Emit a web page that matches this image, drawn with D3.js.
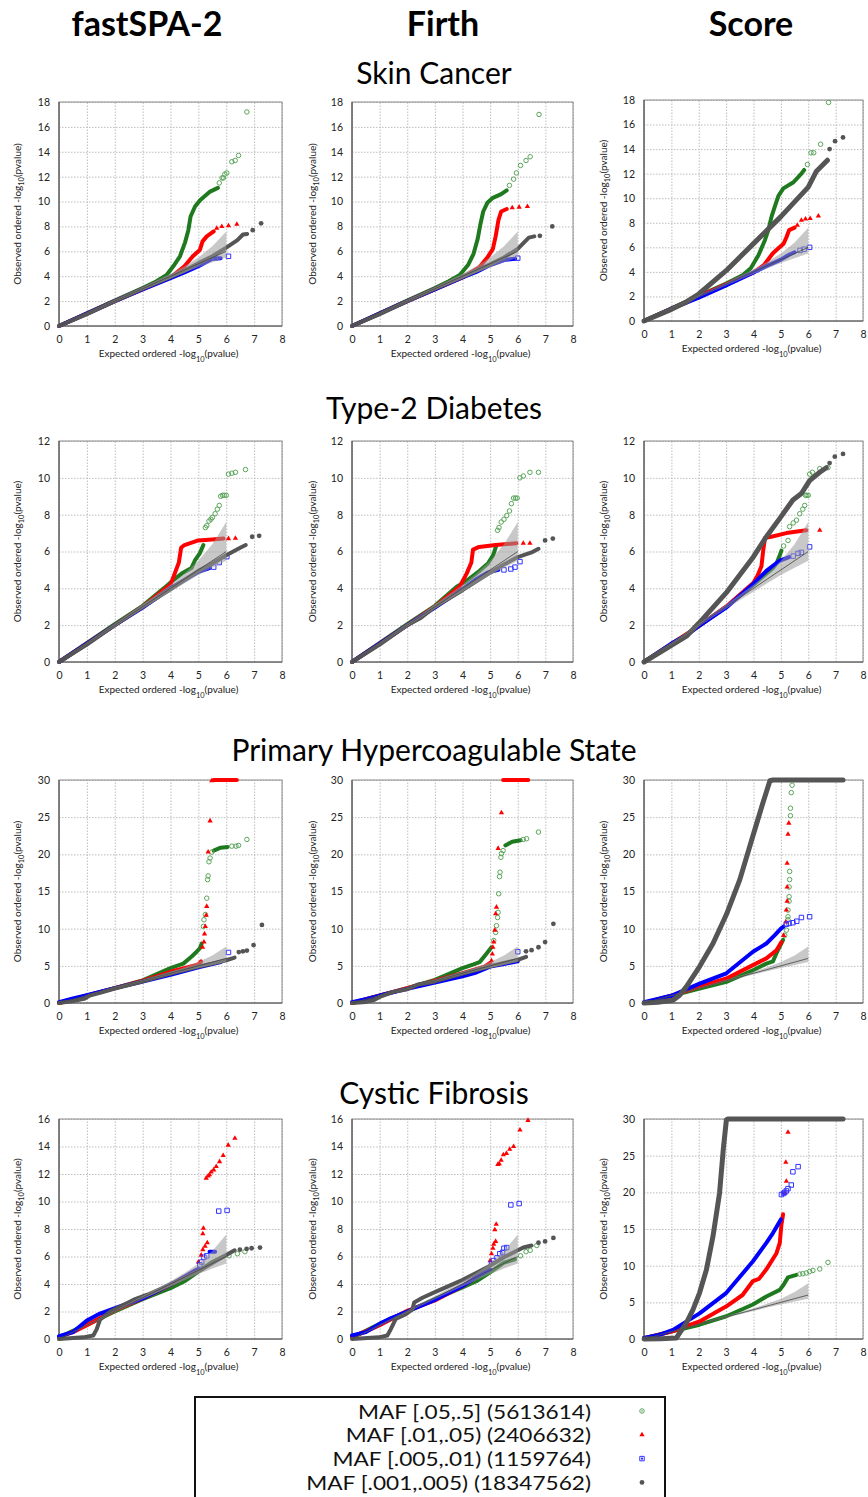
<!DOCTYPE html>
<html>
<head>
<meta charset="utf-8">
<script src="https://d3js.org/d3.v7.min.js"></script>
<style>
  body { margin: 0; background: #fff; }
  svg { font-family: Lato, "Open Sans", sans-serif; }
</style>
</head>
<body>
<script>
// ---- chart values ----
const columns = ["fastSPA-2", "Firth", "Score"];
const diseases = ["Skin Cancer", "Type-2 Diabetes", "Primary Hypercoagulable State", "Cystic Fibrosis"];
const yMaxes = [[18, 18, 18], [12, 12, 12], [30, 30, 30], [16, 16, 30]];
const xTicks = [0, 1, 2, 3, 4, 5, 6, 7, 8];
const legendLabels = ["MAF [.05,.5] (5613614)", "MAF [.01,.05) (2406632)", "MAF [.005,.01) (1159764)", "MAF [.001,.005) (18347562)"];

// null band (expected under H0)
const bandX  = [0, 1, 2, 3, 4, 4.5, 5, 5.5, 6];
const bandLo = [0, 0.95, 1.93, 2.9, 3.82, 4.28, 4.72, 5.12, 5.5];
const bandHi = [0, 1.05, 2.08, 3.12, 4.2, 4.8, 5.5, 6.4, 7.6];

// each panel: dense part [green, red, blue, gray] and sparse tail points, same order
const skinFastLines = [
  [[0,0],[2,2.05],[3,3.05],[3.5,3.6],[3.86,4.1],[4.1,4.8],[4.34,5.6],[4.52,6.7],[4.64,7.7],[4.72,8.8],[4.88,9.6],[5.06,10.1],[5.42,10.8],[5.7,11.1]],
  [[0,0],[2,2],[4,3.9],[4.5,4.8],[4.8,5.6],[5.05,6.1],[5.15,6.8],[5.3,7.2],[5.55,7.6]],
  [[0,0],[1,1],[2,2],[3,2.95],[4,3.85],[4.5,4.3],[5,4.8],[5.5,5.4],[5.8,5.45]],
  [[0,0],[1,0.95],[2,2],[3,3],[4,3.95],[4.5,4.45],[5,5.05],[5.5,5.6],[6,6.3],[6.4,6.9],[6.6,7.35],[6.75,7.4]]
];
const skinFastTails = [
  [[5.75,11.5],[5.85,11.9],[5.9,11.9],[5.95,12.2],[6.02,12.3],[6.2,13.2],[6.32,13.3],[6.44,13.7],[6.74,17.2]],
  [[5.66,7.85],[5.84,8.0],[6.08,8.05],[6.38,8.18]],
  [[5.6,5.45],[6.08,5.6]],
  [[6.95,7.7],[7.25,8.25]]
];
const skinFirthLines = [
  [[0,0],[2,2.05],[3,3.05],[3.5,3.6],[3.9,4.1],[4.2,4.9],[4.4,5.8],[4.55,7.0],[4.65,8.2],[4.75,9.2],[4.9,9.9],[5.1,10.3],[5.4,10.6],[5.6,10.9]],
  [[0,0],[2,2],[4,3.9],[4.6,4.7],[4.9,5.5],[5.1,6.2],[5.2,7.2],[5.3,8.5],[5.4,9.2],[5.6,9.4]],
  [[0,0],[1,1],[2,2],[3,2.95],[4,3.9],[4.5,4.35],[5,4.9],[5.5,5.3],[5.9,5.4]],
  [[0,0],[1,0.95],[2,2],[3,3],[4,3.95],[5,4.95],[5.5,5.5],[6,6.2],[6.4,7.1],[6.6,7.2]]
];
const skinFirthTails = [
  [[5.7,11.3],[5.85,11.8],[5.95,12.3],[6.1,12.9],[6.3,13.3],[6.45,13.6],[6.77,17.0]],
  [[5.8,9.5],[6.05,9.55],[6.35,9.6]],
  [[6.0,5.45]],
  [[6.8,7.25],[7.25,8.0]]
];
const skinScoreLines = [
  [[0,0],[2,2.05],[3,3.05],[3.6,3.72],[3.9,4.3],[4.18,5.35],[4.42,6.6],[4.54,7.4],[4.66,8.5],[4.79,9.4],[4.91,10.2],[5.09,10.8],[5.46,11.3],[5.75,12.0],[5.85,12.3]],
  [[0,0],[2,2],[4,3.95],[4.4,4.6],[4.7,5.5],[4.95,6.0],[5.1,6.3],[5.2,6.8],[5.3,7.4],[5.5,7.6]],
  [[0,0],[1,1.0],[1.55,1.5],[2,1.9],[3,2.9],[4,3.95],[4.5,4.5],[5,5.0],[5.3,5.4],[5.5,5.6]],
  [[0,0],[1,0.95],[1.55,1.55],[2,2.2],[3,4.1],[4,6.3],[4.5,7.4],[5,8.5],[5.5,9.7],[6,10.9],[6.3,12.2],[6.7,13.1]]
];
const skinScoreTails = [
  [[5.97,12.75],[6.1,13.7],[6.2,13.7],[6.45,14.4],[6.74,17.8]],
  [[5.6,7.8],[5.75,8.2],[5.9,8.3],[6.07,8.35],[6.37,8.55]],
  [[5.7,5.75],[5.85,5.85],[6.05,6.0]],
  [[6.78,14.0],[6.98,14.65],[7.27,14.95]]
];
const t2dFastLines = [
  [[0,0],[2,2.05],[3,3.05],[3.8,4.05],[4.1,4.45],[4.4,4.8],[4.75,5.1],[4.87,5.5],[5.05,5.9],[5.18,6.35]],
  [[0,0],[2,2],[3,3],[4,4.2],[4.15,4.8],[4.3,5.4],[4.38,6.2],[4.5,6.35],[5,6.6],[5.5,6.65],[5.9,6.7]],
  [[0,0],[1,1],[2,2],[3,2.95],[4,4.0],[4.5,4.45],[5,4.9],[5.4,5.1]],
  [[0,0],[1,0.95],[2,2],[3,3],[4,3.95],[5,4.95],[5.5,5.35],[6,5.8],[6.5,6.2],[6.7,6.35]]
];
const t2dFastTails = [
  [[5.25,7.3],[5.3,7.4],[5.38,7.65],[5.45,7.75],[5.5,7.85],[5.6,8.05],[5.68,8.3],[5.75,8.5],[5.8,9.0],[5.87,9.05],[5.93,9.05],[6.0,9.05],[6.08,10.2],[6.2,10.25],[6.33,10.3],[6.69,10.45]],
  [[6.08,6.7],[6.33,6.72]],
  [[5.55,5.15],[5.75,5.4],[6.02,5.72]],
  [[6.93,6.8],[7.18,6.85]]
];
const t2dFirthLines = [
  [[0,0],[2,2.05],[3,3.05],[3.8,4.1],[4.1,4.35],[4.62,4.95],[4.92,5.35],[5.11,5.8],[5.23,6.35]],
  [[0,0],[2,2],[3,3],[3.9,4.1],[4.15,4.8],[4.32,5.4],[4.38,6.1],[4.6,6.25],[5.2,6.35],[5.95,6.45]],
  [[0,0],[1,1],[2,2],[3,2.95],[4,3.95],[4.5,4.5],[4.9,4.85],[5.3,5.0]],
  [[0,0],[1,0.95],[2,2],[2.5,2.4],[3,3],[4,3.9],[5,4.85],[5.5,5.3],[6,5.7],[6.5,5.95],[6.75,6.15]]
];
const t2dFirthTails = [
  [[5.27,7.15],[5.32,7.3],[5.4,7.6],[5.5,7.75],[5.6,7.95],[5.7,8.2],[5.77,8.6],[5.85,8.9],[5.92,8.9],[5.98,8.9],[6.08,10.0],[6.2,10.1],[6.44,10.3],[6.75,10.3]],
  [[6.2,6.45],[6.44,6.45]],
  [[5.5,5.0],[5.75,5.05],[5.9,5.15],[6.08,5.45]],
  [[6.99,6.6],[7.27,6.7]]
];
const t2dScoreLines = [
  [[0,0],[2,1.95],[3,3],[4,4.2],[4.71,5.1],[4.84,5.35],[4.96,5.8],[5.02,6.05]],
  [[0,0],[2,1.95],[3,3],[4,4.3],[4.15,4.7],[4.29,5.2],[4.35,6.0],[4.42,6.75],[4.65,6.8],[5.2,7.0],[5.93,7.15]],
  [[0,0],[1,1],[1.55,1.45],[2,1.95],[3,2.95],[4,4.25],[4.47,4.95],[4.96,5.5],[5.3,5.7]],
  [[0,0],[1,0.9],[1.55,1.4],[2,2.1],[3,3.75],[4,5.72],[4.47,6.8],[4.96,7.8],[5.44,8.8],[5.75,9.15],[6.05,9.85],[6.42,10.3],[6.66,10.55]]
];
const t2dScoreTails = [
  [[5.1,6.3],[5.26,6.6],[5.32,7.35],[5.45,7.55],[5.57,7.7],[5.69,8.05],[5.8,8.3],[5.87,8.5],[5.9,9.05],[5.95,9.05],[6.0,9.05],[6.05,10.2],[6.15,10.3],[6.42,10.5],[6.72,10.55]],
  [[6.42,7.15]],
  [[5.45,5.75],[5.63,5.9],[5.75,5.95],[6.05,6.25]],
  [[6.78,10.8],[6.97,11.15],[7.27,11.3]]
];
const phsFastLines = [
  [[0,0],[2,2],[3,3.05],[4,4.7],[4.46,5.3],[4.76,6.25],[4.94,6.9],[5.06,7.4],[5.12,8.0],null,[5.55,20.5],[5.8,20.9],[6.05,21.0]],
  [[0,0],[2,2],[3,3],[4,4.2],[4.6,4.8],[5.0,5.2],[5.1,5.6],null,[5.55,30],[6.38,30]],
  [[0,0.1],[0.5,0.6],[1,1.05],[2,2],[3,2.9],[4,3.8],[4.5,4.3],[5,4.8],[5.5,5.25],[5.8,5.5]],
  [[0,0],[0.5,0.25],[0.9,0.55],[1.1,1.0],[1.5,1.4],[2,1.95],[3,2.9],[4,3.95],[5,4.9],[5.5,5.3],[6,5.75],[6.3,6.1]]
];
const phsFastTails = [
  [[5.18,10.3],[5.2,11.2],[5.25,11.9],[5.3,14.1],[5.33,16.6],[5.35,17.1],[5.38,19.0],[5.42,19.5],[5.48,20.3],[6.2,21.1],[6.35,21.1],[6.44,21.2],[6.74,22.0]],
  [[5.15,7.5],[5.2,8.2],[5.22,9.3],[5.25,10.3],[5.28,11.8],[5.3,13.0],[5.35,20.3],[5.42,24.5],[5.48,29.9]],
  [[6.08,6.8]],
  [[6.45,6.85],[6.6,6.95],[6.74,7.05],[6.98,7.8],[7.28,10.5]]
];
const phsFirthLines = [
  [[0,0],[2,2],[3,3.1],[4,4.7],[4.4,5.2],[4.62,5.5],[4.86,6.6],[5.05,7.5],null,[5.55,21.2],[5.8,21.7],[6.1,21.9]],
  [[0,0],[2,2],[3,3],[4,4.0],[4.8,4.9],[5.0,5.4],null,[5.47,30],[6.38,30]],
  [[0,0.1],[0.5,0.5],[1,1.0],[2,1.9],[3,2.75],[4,3.6],[4.5,4.1],[5,4.9],[5.5,5.25],[6,5.6]],
  [[0,0],[0.5,0.15],[0.8,0.4],[1.05,0.9],[1.5,1.5],[2,1.85],[2.4,2.5],[3,2.9],[4,3.95],[5,4.95],[5.5,5.4],[6,5.8],[6.3,6.2]]
];
const phsFirthTails = [
  [[5.13,8.4],[5.2,9.5],[5.23,10.4],[5.27,11.5],[5.29,12.2],[5.31,14.7],[5.34,17.0],[5.36,17.6],[5.39,19.6],[5.41,20.1],[5.47,20.5],[6.2,22.0],[6.32,22.1],[6.75,23.0]],
  [[5.05,5.7],[5.08,6.6],[5.1,7.5],[5.13,8.2],[5.17,9.8],[5.2,12.0],[5.23,12.9],[5.29,20.8],[5.41,25.6]],
  [[6.0,6.9]],
  [[6.3,6.95],[6.5,7.1],[6.75,7.5],[6.99,8.2],[7.29,10.65]]
];
const phsScoreLines = [
  [[0,0],[1,0.95],[2.03,1.95],[3.01,2.85],[3.98,4.4],[4.47,5.3],[4.71,5.6],[4.84,6.7],[4.96,7.6],[5.08,8.5]],
  [[0,0],[1,1],[2.03,2.2],[3.01,3.3],[3.98,5.1],[4.47,6.0],[4.84,7.1],[5.02,8.2]],
  [[0,0.1],[0.5,0.55],[1.06,1.05],[2.03,2.6],[3.01,4.0],[3.98,6.9],[4.47,8.0],[4.77,9.1],[5.0,10.0],[5.1,10.3]],
  [[0,0],[0.5,0.1],[1.06,0.36],[1.3,1.05],[1.55,2.2],[2.03,4.9],[2.52,8.0],[3.01,11.9],[3.5,16.6],[3.98,22.5],[4.35,27.0],[4.6,29.9],[4.71,30],[7.27,30]]
];
const phsScoreTails = [
  [[5.14,9.1],[5.2,9.8],[5.26,11.2],[5.26,11.6],[5.26,12.5],[5.3,13.7],[5.3,14.3],[5.3,15.6],[5.32,16.6],[5.32,17.7],[5.35,25.2],[5.35,26.2],[5.38,28.3],[5.41,29.3]],
  [[5.1,9.1],[5.18,10.9],[5.2,12.5],[5.23,13.7],[5.23,15.6],[5.23,18.8],[5.26,22.7],[5.29,24.2]],
  [[5.2,10.6],[5.3,10.7],[5.44,10.8],[5.58,11.0],[5.75,11.5],[6.05,11.6]],
  []
];
const cfFastLines = [
  [[0,0.1],[0.5,0.6],[1,1.05],[2,2.0],[3,2.9],[4,3.7],[4.5,4.2],[5,4.9],[5.5,5.6],[5.9,6.0]],
  [[0,0.15],[0.5,0.5],[1,1.0],[2,2.1],[3,2.95],[4,3.95],[4.5,4.5],[4.9,5.0]],
  [[0,0.2],[0.5,0.5],[1.0,1.35],[1.47,1.85],[1.96,2.2],[3.05,3.0],[4.13,4.1],[4.74,4.8],[5.0,5.1],null,[5.4,6.35],[5.6,6.35]],
  [[0,0],[0.87,0.12],[1.23,0.25],[1.35,0.7],[1.47,1.4],[1.84,2.0],[2.2,2.37],[2.68,2.86],[3.17,3.22],[4.13,4.07],[5.1,5.04],[5.7,5.77],[6.3,6.45]]
];
const cfFastTails = [
  [[6.1,6.05],[6.4,6.2],[6.67,6.35]],
  [[5.0,5.6],[5.1,6.1],[5.16,6.5],[5.24,6.75],[5.32,7.0],[5.16,7.65],[5.18,8.05],[5.28,11.7],[5.35,11.85],[5.4,11.95],[5.46,12.15],[5.55,12.3],[5.64,12.55],[5.76,12.9],[5.89,13.35],[6.07,14.1],[6.31,14.6]],
  [[5.05,5.4],[5.12,5.6],[5.2,5.95],[5.3,6.05],[5.73,9.3],[6.03,9.35]],
  [[6.49,6.5],[6.73,6.55],[6.91,6.6],[7.21,6.65]]
];
const cfFirthLines = [
  [[0,0.1],[0.5,0.6],[1,1.1],[2,2.0],[3,2.9],[4,3.75],[4.5,4.2],[5,4.85],[5.5,5.55],[5.9,5.8]],
  [[0,0.15],[0.5,0.55],[1,1.0],[2,2.05],[3,2.8],[4,3.85],[4.5,4.5],[4.9,5.2]],
  [[0,0.25],[0.5,0.5],[1,1.1],[1.4,1.5],[2,2.0],[3,2.85],[4,3.85],[4.5,4.5],[4.8,4.85],[5.0,5.05]],
  [[0,0],[0.97,0.12],[1.28,0.25],[1.4,0.7],[1.58,1.45],[1.95,1.8],[2.19,2.15],[2.25,2.65],[2.55,3.0],[3.04,3.45],[4.01,4.3],[4.98,5.3],[5.5,5.95],[6.2,6.65],[6.5,6.8]]
];
const cfFirthTails = [
  [[6.1,6.05],[6.3,6.35],[6.45,6.45],[6.69,6.8]],
  [[5.0,5.7],[5.05,6.2],[5.1,6.6],[5.13,6.9],[5.2,7.1],[5.17,7.95],[5.22,8.35],[5.28,12.7],[5.33,12.75],[5.4,13.0],[5.48,13.4],[5.59,13.5],[5.71,13.8],[5.85,14.0],[6.08,15.2],[6.37,15.9]],
  [[5.05,5.5],[5.12,5.7],[5.25,5.9],[5.35,6.2],[5.45,6.3],[5.5,6.6],[5.6,6.65],[5.75,9.75],[6.05,9.85]],
  [[6.75,7.0],[6.99,7.1],[7.29,7.35]]
];
const cfScoreLines = [
  [[0,0.1],[1,1.0],[2.03,1.95],[3.01,3.1],[3.98,4.7],[4.47,5.8],[4.96,6.7],[5.1,7.4],[5.26,8.4],[5.57,8.75]],
  [[0,0.1],[1,1.0],[2.03,2.4],[3.01,4.45],[3.6,6.0],[3.98,7.9],[4.2,8.2],[4.47,9.5],[4.84,11.7],[4.96,13.1],[5.02,15.6],[5.08,17.0]],
  [[0,0.15],[0.5,0.5],[1.06,1.25],[2.03,3.5],[3.01,6.3],[3.98,10.6],[4.47,13.1],[4.71,14.45],[5.0,16.3]],
  [[0,0],[0.6,0.05],[1.18,0.14],[1.3,0.8],[1.55,2.2],[1.79,4.0],[2.03,6.3],[2.28,9.45],[2.52,14.0],[2.76,19.9],[2.9,26.0],[3.01,29.9],[3.05,30],[7.27,30]]
];
const cfScoreTails = [
  [[5.69,8.85],[5.8,8.9],[5.93,9.0],[6.05,9.2],[6.17,9.35],[6.42,9.55],[6.72,10.45]],
  [[5.14,19.9],[5.2,21.5],[5.18,24.1],[5.26,28.2]],
  [[5.02,19.7],[5.1,19.85],[5.14,20.0],[5.2,20.2],[5.26,20.5],[5.38,21.0],[5.44,22.8],[5.63,23.5]],
  []
];

const panelLines = [
  [skinFastLines, skinFirthLines, skinScoreLines],
  [t2dFastLines, t2dFirthLines, t2dScoreLines],
  [phsFastLines, phsFirthLines, phsScoreLines],
  [cfFastLines, cfFirthLines, cfScoreLines]
];
const panelTails = [
  [skinFastTails, skinFirthTails, skinScoreTails],
  [t2dFastTails, t2dFirthTails, t2dScoreTails],
  [phsFastTails, phsFirthTails, phsScoreTails],
  [cfFastTails, cfFirthTails, cfScoreTails]
];

// ---- layout / style ----
const W = 868, H = 1497;
const colX = [59, 352, 644], colW = [223, 221, 219];
const rowTop = [102, 441, 780, 1119], rowBot = [326, 662, 1003, 1339];
const lineColor = ["#1f7a1f", "#ff0000", "#0000ff", "#555555"];
const tailColor = ["#5aa55a", "#ff0000", "#3333ff", "#555555"];
const drawOrder = [0, 1, 2, 3];

const svg = d3.select("body").append("svg").attr("width", W).attr("height", H);

// column headings
svg.selectAll(".colTitle").data(columns).enter().append("text")
  .attr("x", (d, i) => [147, 443, 751][i]).attr("y", 22)
  .attr("text-anchor", "middle").attr("dominant-baseline", "central")
  .style("font-size", "34px").style("font-weight", "bold")
  .text(d => d);

// disease headings
svg.selectAll(".rowTitle").data(diseases).enter().append("text")
  .attr("x", 434).attr("y", (d, i) => [72, 407, 749, 1092][i])
  .attr("text-anchor", "middle").attr("dominant-baseline", "central")
  .style("font-size", "30px")
  .text(d => d);

const symCircle = d3.symbol().type(d3.symbolCircle).size(16);
const symTri = d3.symbol().type(d3.symbolTriangle).size(12);
const symSq = d3.symbol().type(d3.symbolSquare).size(20);
const symDot = d3.symbol().type(d3.symbolCircle).size(18);

function markerPath(s) { return [symCircle, symTri, symSq, symDot][s](); }
function markerFill(s) { return s === 0 || s === 2 ? "none" : tailColor[s]; }
function markerStroke(s) { return s === 0 || s === 2 ? tailColor[s] : "none"; }

for (let r = 0; r < 4; r++) {
  for (let c = 0; c < 3; c++) {
    const top = (r === 0 && c === 2) ? 100 : rowTop[r];
    const bot = (r === 0 && c === 2) ? 321 : rowBot[r];
    const x = d3.scaleLinear().domain([0, 8]).range([colX[c], colX[c] + colW[c]]);
    const ymax = yMaxes[r][c];
    const y = d3.scaleLinear().domain([0, ymax]).range([bot, top]);
    const step = ymax === 30 ? 5 : 2;
    const yTicks = d3.range(0, ymax + 0.01, step);
    const g = svg.append("g");

    // grid
    g.append("g").attr("transform", `translate(0,${bot})`)
      .call(d3.axisBottom(x).tickValues(xTicks).tickSize(-(bot - top)).tickFormat(""))
      .call(a => a.select(".domain").remove())
      .selectAll("line").attr("stroke", "#bdbdbd").attr("stroke-dasharray", "1.5,1.5");
    g.append("g").attr("transform", `translate(${colX[c]},0)`)
      .call(d3.axisLeft(y).tickValues(yTicks).tickSize(-colW[c]).tickFormat(""))
      .call(a => a.select(".domain").remove())
      .selectAll("line").attr("stroke", "#bdbdbd").attr("stroke-dasharray", "1.5,1.5");

    // frame
    g.append("rect").attr("x", colX[c]).attr("y", top).attr("width", colW[c]).attr("height", bot - top)
      .attr("fill", "none").attr("stroke", "#8a8a8a").attr("stroke-width", 1);
    g.append("line").attr("x1", colX[c]).attr("x2", colX[c]).attr("y1", top).attr("y2", bot)
      .attr("stroke", "#555").attr("stroke-width", 1.2);
    g.append("line").attr("x1", colX[c]).attr("x2", colX[c] + colW[c]).attr("y1", bot).attr("y2", bot)
      .attr("stroke", "#555").attr("stroke-width", 1.2);

    // tick labels
    g.append("g").attr("transform", `translate(0,${bot})`)
      .call(d3.axisBottom(x).tickValues(xTicks).tickSize(0).tickPadding(10))
      .call(a => a.select(".domain").remove())
      .selectAll("text").style("font-size", "10.5px").attr("fill", "#222").style("font-family", "Lato, sans-serif");
    g.append("g").attr("transform", `translate(${colX[c]},0)`)
      .call(d3.axisLeft(y).tickValues(yTicks).tickSize(0).tickPadding(9))
      .call(a => a.select(".domain").remove())
      .selectAll("text").style("font-size", "10.5px").attr("fill", "#222").style("font-family", "Lato, sans-serif");

    // axis titles
    const xt = g.append("text").attr("x", colX[c] + colW[c] / 2 - 2).attr("y", bot + 31)
      .attr("text-anchor", "middle").style("font-size", "10px").attr("fill", "#222");
    xt.append("tspan").text("Expected ordered -log");
    xt.append("tspan").attr("baseline-shift", "sub").style("font-size", "7.5px").text("10");
    xt.append("tspan").text("(pvalue)");
    const yx = [17, 312, 603][c];
    const yt = g.append("text").attr("transform", `translate(${yx},${(top + bot) / 2}) rotate(-90)`)
      .attr("text-anchor", "middle").attr("dominant-baseline", "central").style("font-size", "10px").attr("fill", "#222");
    yt.append("tspan").text("Observed ordered -log");
    yt.append("tspan").attr("baseline-shift", "sub").style("font-size", "7.5px").text("10");
    yt.append("tspan").text("(pvalue)");

    // dense parts of each MAF class, then sparse tail markers
    const line = d3.line().defined(d => d != null).x(d => x(d[0])).y(d => y(d[1]));
    drawOrder.forEach(s => {
      g.append("path").datum(panelLines[r][c][s])
        .attr("d", line).attr("fill", "none").attr("stroke", lineColor[s])
        .attr("stroke-width", s === 3 && c === 2 ? 5 : 4)
        .attr("stroke-linecap", "round").attr("stroke-linejoin", "round");
      g.selectAll(null).data(panelTails[r][c][s]).enter().append("path")
        .attr("transform", d => `translate(${x(d[0])},${y(d[1])})`)
        .attr("d", markerPath(s)).attr("fill", markerFill(s))
        .attr("stroke", markerStroke(s)).attr("stroke-width", 1);
    });

    // null band and diagonal
    const band = d3.area().x((d, i) => x(bandX[i])).y0((d, i) => y(bandLo[i])).y1((d, i) => y(bandHi[i]));
    g.append("path").datum(bandX).attr("d", band).attr("fill", "#9a9a9a").attr("opacity", 0.55);
    g.append("line").attr("x1", x(0)).attr("y1", y(0)).attr("x2", x(6)).attr("y2", y(6))
      .attr("stroke", "#444").attr("stroke-width", 0.8);
  }
}

// legend
const lg = svg.append("g");
lg.append("rect").attr("x", 195).attr("y", 1397).attr("width", 470).attr("height", 120)
  .attr("fill", "#fff").attr("stroke", "#111").attr("stroke-width", 2);
lg.selectAll(".lt").data(legendLabels).enter().append("text")
  .attr("x", 591).attr("y", (d, i) => 1411 + i * 23.8)
  .attr("text-anchor", "end").attr("dominant-baseline", "central")
  .style("font-size", "19.5px").attr("fill", "#111").text(d => d)
  .each(function() {
    // the original legend type is wider than Lato at this size
    const w = this.getComputedTextLength();
    d3.select(this).attr("textLength", w * 1.16).attr("lengthAdjust", "spacingAndGlyphs");
  });
lg.selectAll(".lm").data(legendLabels).enter().append("path")
  .attr("transform", (d, i) => `translate(642,${1411 + i * 23.8})`)
  .attr("d", (d, i) => markerPath(i)).attr("fill", (d, i) => markerFill(i))
  .attr("stroke", (d, i) => markerStroke(i)).attr("stroke-width", 1);
lg.append("circle").attr("cx", 642).attr("cy", 1411).attr("r", 0.8).attr("fill", tailColor[0]);
lg.append("rect").attr("x", 641).attr("y", 1411 + 2 * 23.8 - 1).attr("width", 2).attr("height", 2).attr("fill", tailColor[2]);
</script>
</body>
</html>
